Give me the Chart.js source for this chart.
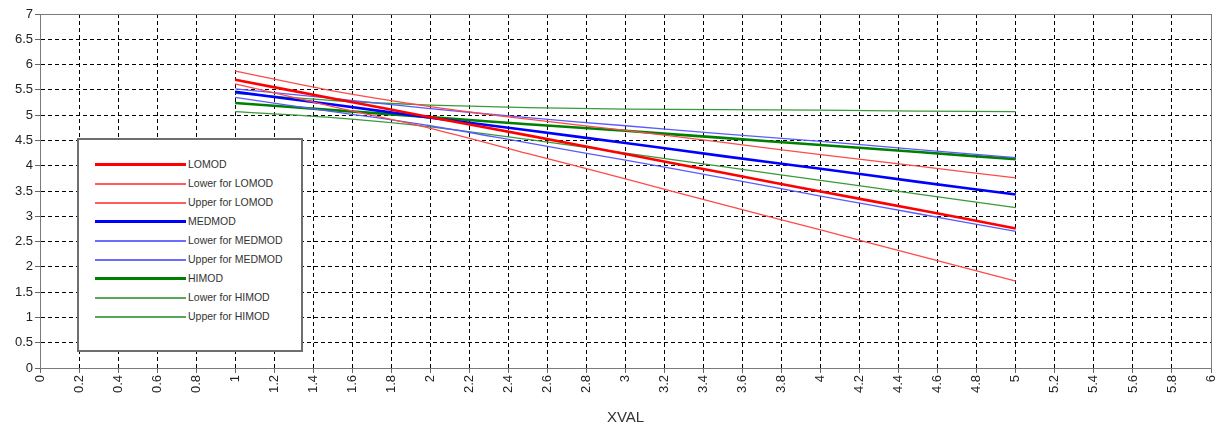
<!DOCTYPE html>
<html>
<head>
<meta charset="utf-8">
<script src="https://cdn.jsdelivr.net/npm/chart.js@4.4.0/dist/chart.umd.min.js"></script>
<style>
  html, body { margin:0; padding:0; background:#fff; }
  #wrap { position:relative; width:1217px; height:428px; }
  #legend { position:absolute; left:77px; top:138px; width:226px; height:214px; box-sizing:border-box;
            border:2px solid #6e6e6e; background:#fff; font-family:"Liberation Sans", Arial, sans-serif; }
  .row { position:absolute; left:0; height:19px; width:100%; }
  .sample { position:absolute; left:16px; width:91px; }
  .lbl { position:absolute; left:109px; top:0; line-height:19px; font-size:10.5px; color:#333; white-space:nowrap; }
</style>
</head>
<body>
<div id="wrap">
  <canvas id="chart" width="1217" height="428"></canvas>
  <div id="legend"></div>
</div>
<script>
// values
const xVals = [1, 1.5, 2, 2.5, 3, 3.5, 4, 4.5, 5];

const loMod      = [5.70, 5.33, 4.96, 4.60, 4.23, 3.86, 3.49, 3.13, 2.76];
const loModLower = [5.62, 5.17, 4.74, 4.24, 3.74, 3.23, 2.73, 2.22, 1.72];
const loModUpper = [5.87, 5.48, 5.17, 4.92, 4.70, 4.46, 4.22, 3.99, 3.76];

const medMod      = [5.46, 5.21, 4.95, 4.70, 4.45, 4.19, 3.94, 3.68, 3.43];
const medModLower = [5.35, 5.07, 4.79, 4.45, 4.11, 3.76, 3.40, 3.05, 2.70];
const medModUpper = [5.52, 5.33, 5.13, 4.95, 4.79, 4.63, 4.48, 4.32, 4.16];

const hiMod      = [5.24, 5.10, 4.96, 4.82, 4.69, 4.55, 4.41, 4.27, 4.13];
const hiModLower = [5.07, 4.95, 4.77, 4.52, 4.25, 3.98, 3.71, 3.44, 3.17];
const hiModUpper = [5.43, 5.29, 5.20, 5.15, 5.12, 5.11, 5.10, 5.08, 5.07];

const seriesNames = ['LOMOD', 'Lower for LOMOD', 'Upper for LOMOD',
                     'MEDMOD', 'Lower for MEDMOD', 'Upper for MEDMOD',
                     'HIMOD', 'Lower for HIMOD', 'Upper for HIMOD'];
const seriesValues = [loMod, loModLower, loModUpper, medMod, medModLower, medModUpper, hiMod, hiModLower, hiModUpper];

const xTicks = [0,0.2,0.4,0.6,0.8,1,1.2,1.4,1.6,1.8,2,2.2,2.4,2.6,2.8,3,3.2,3.4,3.6,3.8,4,4.2,4.4,4.6,4.8,5,5.2,5.4,5.6,5.8,6];
const yTicks = [0,0.5,1,1.5,2,2.5,3,3.5,4,4.5,5,5.5,6,6.5,7];

const colors = ['#ff0000','#ff4a4a','#ff4a4a','#0000ff','#5a5aff','#5a5aff','#008000','#3a9a3a','#3a9a3a'];
const legendColors = ['#ff0000','#ff5c5c','#ff5c5c','#0000ff','#6c6cff','#6c6cff','#008000','#55a855','#55a855'];
const widths = [2.6, 1.3, 1.3, 2.6, 1.3, 1.3, 2.6, 1.3, 1.3];

const datasets = seriesNames.map((name, i) => ({
  label: name,
  data: xVals.map((x, j) => ({ x: x, y: seriesValues[i][j] })),
  borderColor: colors[i],
  borderWidth: widths[i],
  pointRadius: 0,
  fill: false,
  tension: 0.3
}));

const frame = {
  id: 'frame',
  afterDraw(chart){
    const {ctx, chartArea:a} = chart;
    ctx.save();
    ctx.strokeStyle = '#7a7a7a';
    ctx.lineWidth = 1;
    ctx.strokeRect(Math.round(a.left)+0.5, Math.round(a.top)+0.5, Math.round(a.right-a.left), Math.round(a.bottom-a.top));
    ctx.restore();
  }
};

const tickFont = { family: '"Liberation Sans", Arial, sans-serif', size: 13 };

new Chart(document.getElementById('chart').getContext('2d'), {
  type: 'line',
  data: { datasets: datasets },
  plugins: [frame],
  options: {
    responsive: false,
    animation: false,
    layout: { padding: { top: 14, right: 6, left: 0, bottom: 0 } },
    plugins: { legend: { display: false }, tooltip: { enabled: false } },
    scales: {
      x: {
        type: 'linear', min: 0, max: 6,
        afterBuildTicks: s => { s.ticks = xTicks.map(v => ({ value: v })); },
        afterFit: s => { s.height = 60; s.paddingLeft = 0; s.paddingRight = 0; },
        ticks: { font: tickFont, color: '#222', maxRotation: 90, minRotation: 90, padding: 2, autoSkip: false,
                 callback: v => String(v) },
        grid: { color: '#000', lineWidth: 1, tickLength: 5, tickColor: '#666', tickBorderDash: [] },
        border: { display: true, color: '#7a7a7a', width: 1, dash: [4, 3] },
        title: { display: true, text: 'XVAL', color: '#333',
                 font: { family: '"Liberation Sans", Arial, sans-serif', size: 15 }, padding: { top: 2, bottom: 1 } }
      },
      y: {
        min: 0, max: 7,
        afterBuildTicks: s => { s.ticks = yTicks.map(v => ({ value: v })); },
        afterFit: s => { s.width = 40; s.paddingTop = 0; s.paddingBottom = 0; },
        ticks: { font: tickFont, color: '#222', padding: 2, callback: v => String(v) },
        grid: { color: '#000', lineWidth: 1, tickLength: 5, tickColor: '#666', tickBorderDash: [] },
        border: { display: true, color: '#7a7a7a', width: 1, dash: [4, 3] }
      }
    }
  }
});

// legend box drawn over the plot
const legend = document.getElementById('legend');
seriesNames.forEach((name, i) => {
  const row = document.createElement('div');
  row.className = 'row';
  row.style.top = Math.round(15 + i * 19.05) + 'px';
  const h = widths[i] > 2 ? 3 : 2;
  const s = document.createElement('div');
  s.className = 'sample';
  s.style.height = h + 'px';
  s.style.top = (h === 3 ? 8 : 9) + 'px';
  s.style.background = legendColors[i];
  const t = document.createElement('div');
  t.className = 'lbl';
  t.textContent = name;
  row.appendChild(s); row.appendChild(t);
  legend.appendChild(row);
});
</script>
</body>
</html>
